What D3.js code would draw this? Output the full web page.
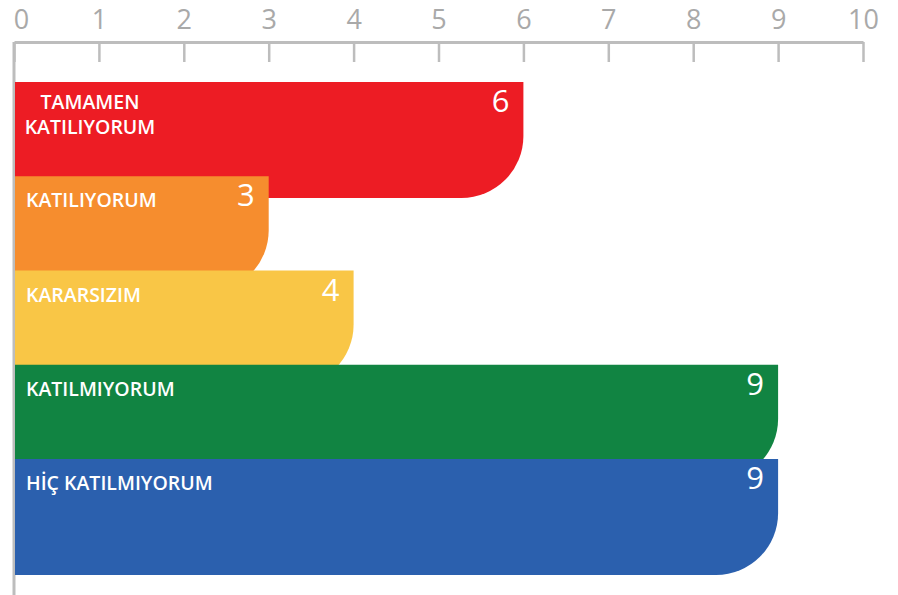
<!DOCTYPE html>
<html><head><meta charset="utf-8">
<script src="https://cdn.jsdelivr.net/npm/d3@7"></script>
<style>
html,body{margin:0;padding:0;background:#fff;}
svg{display:block;}
</style></head>
<body>
<svg id="chart" width="898" height="595"></svg>
<script>
const categories = ["TAMAMEN KATILIYORUM", "KATILIYORUM", "KARARSIZIM", "KATILMIYORUM", "HİÇ KATILMIYORUM"];
const values = [6, 3, 4, 9, 9];
const colors = ["#ED1C24", "#F68D2E", "#F9C646", "#118442", "#2B60AE"];
const tickValues = [0,1,2,3,4,5,6,7,8,9,10];

const W = 898, H = 595;
const svg = d3.select("#chart");
const font = "'Open Sans', 'Noto Sans', sans-serif";

const x = d3.scaleLinear().domain([0, 10]).range([14, 863]);
const y = d3.scalePoint().domain(categories).range([82, 459]);
const barH = 116, r = 62;
const axisY = 42;

// left vertical line
svg.append("line")
  .attr("x1", x(0)).attr("x2", x(0))
  .attr("y1", axisY).attr("y2", H)
  .attr("stroke", "#bdbdbd").attr("stroke-width", 3);

// bars
function barPath(v, top) {
  const x0 = x(0) + 1, x1 = x(v), y0 = top, y1 = top + barH;
  return `M${x0},${y0}H${x1}V${y1 - r}A${r},${r} 0 0 1 ${x1 - r},${y1}H${x0}Z`;
}
const g = svg.append("g");
categories.forEach((c, i) => {
  const top = y(c);
  g.append("path").attr("d", barPath(values[i], top)).attr("fill", colors[i]);
  // category label
  const words = c === "TAMAMEN KATILIYORUM" ? ["TAMAMEN", "KATILIYORUM"] : [c];
  const t = g.append("text")
    .attr("fill", "#fff")
    .attr("font-family", font)
    .attr("font-weight", 600)
    .attr("font-size", 19.5);
  if (words.length > 1) {
    t.attr("text-anchor", "middle");
    words.forEach((w, k) => {
      t.append("tspan").attr("x", x(0) + 76).attr("y", top + 27 + k * 25).text(w);
    });
  } else {
    t.attr("x", x(0) + 12).attr("y", top + 31).text(c);
  }
  // value label
  g.append("text")
    .attr("x", x(values[i]) - 14)
    .attr("y", top + 30)
    .attr("text-anchor", "end")
    .attr("fill", "#fff")
    .attr("font-family", font)
    .attr("font-size", 31)
    .text(values[i]);
});

// axis
const axis = d3.axisTop(x)
  .tickValues(tickValues)
  .tickSizeInner(-20)
  .tickSizeOuter(0)
  .tickPadding(13)
  .tickFormat(d3.format("d"));
const ag = svg.append("g").attr("transform", `translate(0,${axisY})`).call(axis);
ag.select(".domain").attr("stroke", "#bdbdbd").attr("stroke-width", 3);
ag.selectAll(".tick line").attr("stroke", "#bdbdbd").attr("stroke-width", 2.5);
ag.selectAll(".tick text")
  .attr("fill", "#a9a9a9")
  .attr("font-family", font)
  .attr("font-size", 27);
ag.selectAll(".tick").filter(d => d === 0).select("text").attr("dx", 7);
</script>
</body></html>
